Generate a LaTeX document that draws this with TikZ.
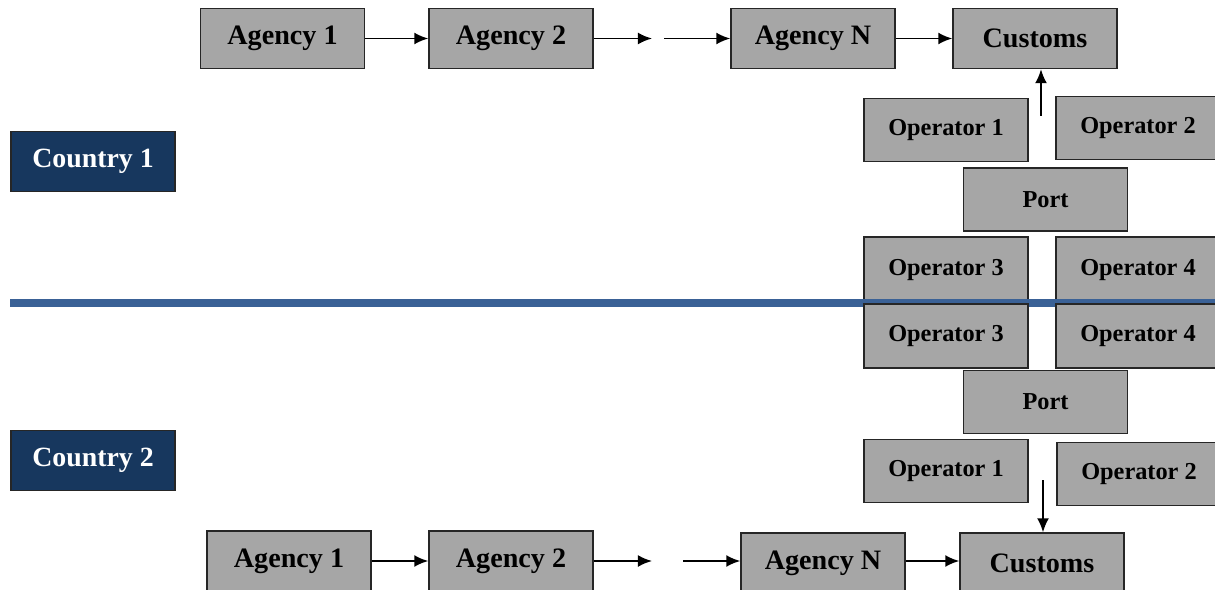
\documentclass[tikz,border=0pt]{standalone}
\usepackage{fontspec}
\setmainfont{Liberation Serif}
\usepackage{tikz}
\usetikzlibrary{arrows.meta,positioning}

\definecolor{boxgray}{HTML}{A6A6A6}
\definecolor{navy}{HTML}{17375E}
\definecolor{borderblue}{HTML}{3A6196}

\begin{document}
\begin{tikzpicture}[x=0.025cm,y=-0.025cm,->,>={Latex[length=10pt,width=8.5pt]},line width=1.4pt,
      box/.style={rectangle,draw=black!85,fill=boxgray,line width=0.9pt,inner sep=0pt,
        minimum width=4.1cm,minimum height=1.5cm,font=\fontsize{20}{22}\selectfont\bfseries},
      small box/.style={box,minimum height=1.57cm,font=\fontsize{17.3}{19}\selectfont\bfseries},
      country/.style={box,fill=navy,text=white,font=\fontsize{19.8}{22}\selectfont\bfseries}]
    \useasboundingbox (0,0) rectangle (1215,590);

      % country 1
      \node[box] (ag1a) at (282.5,38.5)	{Agency 1};
      \node[box] (ag2a) at (511,38.5)	{Agency 2};
      \node[box] (agNa) at (813,38.5)	{Agency N};
      \node[box] (cus1) at (1035,38.5)	{Customs};
      \coordinate (gap1a) at (652,38.5);
      \coordinate (gap1b) at (664,38.5);

      \node[small box] (op1a) at (946,130)	{Operator 1};
      \node[small box] (op2a) at (1138,128)	{Operator 2};
      \node[small box] (port1) at (1045.5,199.5)	{Port};
      \node[small box,minimum height=1.65cm] (op3a) at (946,270)	{Operator 3};
      \node[small box,minimum height=1.65cm] (op4a) at (1138,270)	{Operator 4};
      \coordinate (up1) at (1041,116);

      \node[country] (country1) at (93,161.5)	{Country 1};

      % border
      \coordinate (borderL) at (10,303);
      \coordinate (borderR) at (1215,303);
      \draw[-,borderblue,line width=5pt] (borderL) -- (borderR);

      % country 2
      \node[small box,minimum height=1.6cm] (op3b) at (946,336)	{Operator 3};
      \node[small box,minimum height=1.6cm] (op4b) at (1138,336)	{Operator 4};
      \node[small box] (port2) at (1045.5,402)	{Port};
      \node[small box] (op1b) at (946,471)	{Operator 1};
      \node[small box] (op2b) at (1139,474)	{Operator 2};
      \coordinate (down2) at (1043,480);

      \node[country] (country2) at (93,460.5)	{Country 2};

      \node[box] (ag1b) at (289,561)	{Agency 1};
      \node[box] (ag2b) at (511,561)	{Agency 2};
      \node[box] (agNb) at (823,563)	{Agency N};
      \node[box] (cus2) at (1042,563)	{Customs};
      \coordinate (gap2a) at (652,561);
      \coordinate (gap2b) at (683,561);

      \foreach \from/\to in {ag1a/ag2a,ag2a/gap1a,gap1b/agNa,agNa/cus1,
	  ag1b/ag2b,ag2b/gap2a}
	\draw (\from) -- (\to);
      \draw (gap2b) -- (gap2b -| agNb.west);
      \draw (agNb.east |- gap2b) -- (cus2.west |- gap2b);

      \draw (up1) -- (up1 |- cus1.south);
      \draw (down2) -- (down2 |- cus2.north);

    \end{tikzpicture}
\end{document}
